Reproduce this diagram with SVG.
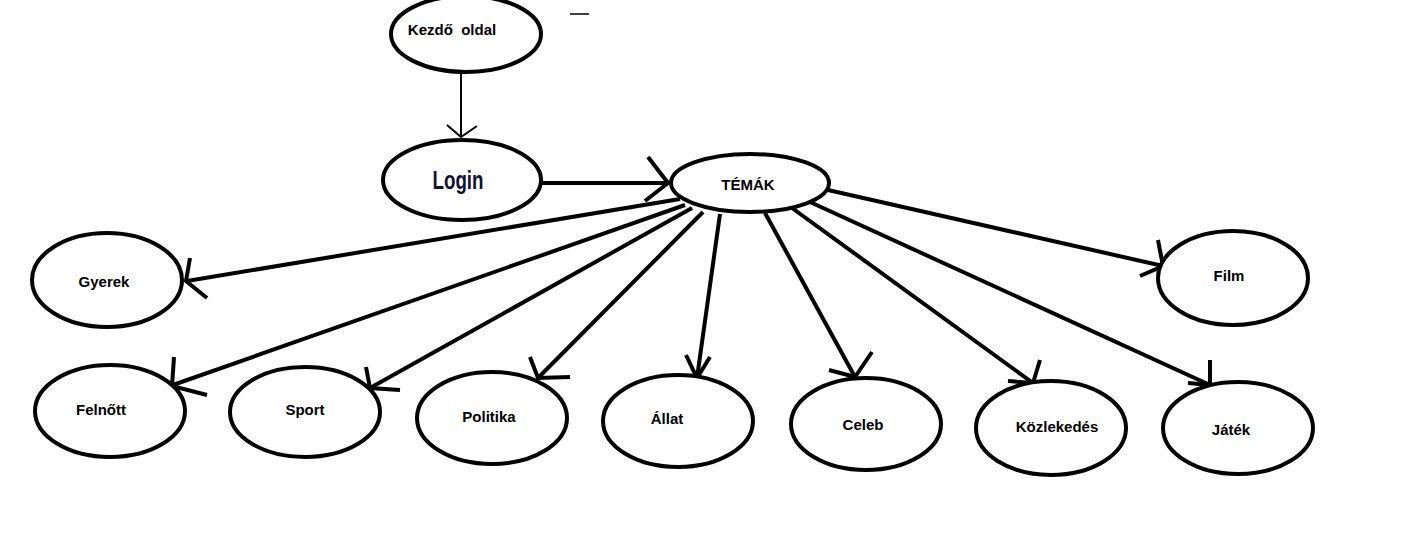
<svg xmlns="http://www.w3.org/2000/svg" width="1416" height="547" viewBox="0 0 1416 547">
<style>
.n{fill:#fff;stroke:#000;stroke-width:4}
.t{font-family:"Liberation Sans",Arial,sans-serif;font-weight:bold;font-size:15px;fill:#000;text-anchor:middle;white-space:pre}
.c{fill:none;stroke:#000;stroke-width:4;stroke-linecap:butt;stroke-linejoin:miter}
.thin{fill:none;stroke:#000;stroke-width:2}
</style>
<rect width="1416" height="547" fill="#fff"/>
<line x1="570" y1="14" x2="589" y2="14" stroke="#000" stroke-width="1.5"/>
<g id="connectors">
<line class="thin" x1="461" y1="73" x2="461" y2="137"/>
<polyline class="thin" points="447,125 461,137 477,126"/>
<line class="c" x1="542" y1="183" x2="668" y2="183"/>
<polyline class="c" points="648,157 668,183 645,201"/>
<line class="c" x1="680" y1="199" x2="187" y2="281"/>
<polyline class="c" points="190,258 186,281 207,298"/>
<line class="c" x1="685" y1="205" x2="170" y2="386"/>
<polyline class="c" points="174,357 172,386 207,395"/>
<line class="c" x1="692" y1="208" x2="370" y2="388"/>
<polyline class="c" points="366,367 370,388 400,390"/>
<line class="c" x1="703" y1="212" x2="538" y2="378"/>
<polyline class="c" points="530,357 538,378 570,377"/>
<line class="c" x1="720" y1="214" x2="697" y2="378"/>
<polyline class="c" points="686,355 697,378 710,357"/>
<line class="c" x1="765" y1="213" x2="855" y2="377"/>
<polyline class="c" points="829,370 855,377 872,352"/>
<line class="c" x1="792" y1="208" x2="1033" y2="383"/>
<polyline class="c" points="1008,381 1033,383 1040,360"/>
<line class="c" x1="810" y1="202" x2="1210" y2="385"/>
<polyline class="c" points="1188,383 1210,385 1210,360"/>
<line class="c" x1="828" y1="190" x2="1163" y2="266"/>
<polyline class="c" points="1158,240 1163,266 1140,276"/>
</g>
<g id="kezdo"><ellipse class="n" cx="466" cy="34" rx="75" ry="38"/><text class="t" x="452" y="35">Kezdő  oldal</text></g>
<g id="login"><ellipse class="n" cx="462" cy="180" rx="79" ry="40"/><text x="458" y="189" font-family="Liberation Sans,Arial,sans-serif" font-weight="bold" font-size="26" fill="#101030" text-anchor="middle" textLength="51" lengthAdjust="spacingAndGlyphs">Login</text></g>
<g id="temak"><ellipse class="n" cx="750" cy="183" rx="79" ry="29"/><text class="t" x="748" y="190">TÉMÁK</text></g>
<g id="gyerek"><ellipse class="n" cx="107" cy="280" rx="75" ry="47"/><text class="t" x="104" y="287">Gyerek</text></g>
<g id="felnott"><ellipse class="n" cx="110" cy="411" rx="75" ry="46"/><text class="t" x="101" y="415">Felnőtt</text></g>
<g id="sport"><ellipse class="n" cx="305" cy="412" rx="75" ry="45"/><text class="t" x="305" y="415">Sport</text></g>
<g id="politika"><ellipse class="n" cx="492" cy="418" rx="75" ry="46"/><text class="t" x="489" y="422">Politika</text></g>
<g id="allat"><ellipse class="n" cx="678" cy="421" rx="75" ry="46"/><text class="t" x="667" y="424">Állat</text></g>
<g id="celeb"><ellipse class="n" cx="866" cy="424" rx="75" ry="46"/><text class="t" x="863" y="430">Celeb</text></g>
<g id="kozlekedes"><ellipse class="n" cx="1051" cy="428" rx="75" ry="47"/><text class="t" x="1057" y="432">Közlekedés</text></g>
<g id="jatek"><ellipse class="n" cx="1238" cy="428" rx="75" ry="46"/><text class="t" x="1231" y="435">Játék</text></g>
<g id="film"><ellipse class="n" cx="1233" cy="278" rx="75" ry="47"/><text class="t" x="1229" y="281">Film</text></g>
</svg>
